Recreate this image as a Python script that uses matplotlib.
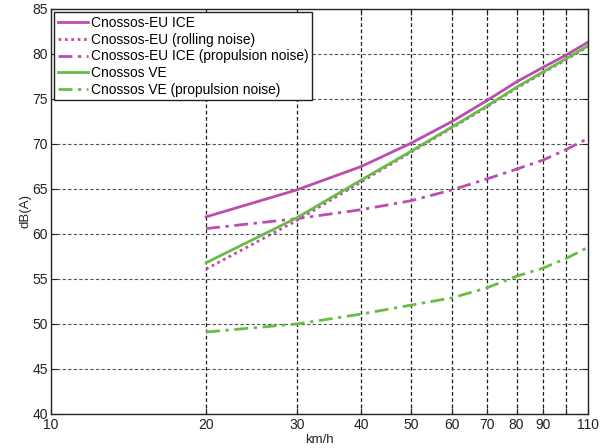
import numpy as np
import matplotlib
matplotlib.use("Agg")
import matplotlib.pyplot as plt

plt.rcParams['font.family'] = ['Liberation Sans', 'DejaVu Sans']

speed = [20, 30, 40, 50, 60, 70, 80, 90, 100, 110]
ice_total = [61.9, 64.9, 67.5, 70.1, 72.5, 74.8, 76.9, 78.5, 79.9, 81.3]
rolling = [56.1, 61.5, 65.8, 69.1, 71.8, 74.1, 76.2, 77.9, 79.4, 80.8]
ice_prop = [60.6, 61.7, 62.7, 63.7, 64.9, 66.1, 67.2, 68.2, 69.4, 70.6]
ve_total = [56.8, 61.8, 66.0, 69.2, 71.9, 74.2, 76.3, 78.0, 79.5, 80.9]
ve_prop = [49.1, 50.0, 51.1, 52.1, 52.9, 54.0, 55.3, 56.2, 57.3, 58.5]

xticks = [10, 20, 30, 40, 50, 60, 70, 80, 90, 100, 110]
xticklabels = ['10', '20', '30', '40', '50', '60', '70', '80', '90', '', '110']
yticks = [40, 45, 50, 55, 60, 65, 70, 75, 80, 85]

magenta = '#BA4DAE'
green = '#67BD45'

fig = plt.figure(figsize=(6.06, 4.48), dpi=100)
ax = fig.add_axes([0.084, 0.076, 0.886, 0.904])

ax.plot(speed, ice_total, color=magenta, lw=2.0, label='Cnossos-EU ICE')
ax.plot(speed, rolling, color=magenta, lw=2.0, ls=(0, (1, 1.3)), label='Cnossos-EU (rolling noise)')
ax.plot(speed, ice_prop, color=magenta, lw=2.0, ls=(0, (5, 2, 1.2, 2)), label='Cnossos-EU ICE (propulsion noise)')
ax.plot(speed, ve_total, color=green, lw=2.0, label='Cnossos VE')
ax.plot(speed, ve_prop, color=green, lw=2.0, ls=(0, (5, 2, 1.2, 2)), label='Cnossos VE (propulsion noise)')

ax.set_xscale('log')
ax.set_xlim(10, 110)
ax.set_ylim(40, 85)
ax.set_xticks(xticks)
ax.set_xticklabels(xticklabels)
ax.xaxis.set_minor_locator(matplotlib.ticker.NullLocator())
ax.set_yticks(yticks)
ax.tick_params(direction='in', length=4, labelsize=10, colors='#222222',
               top=True, right=True)
ax.tick_params(axis='x', pad=3)
ax.tick_params(axis='y', pad=2)

for x in xticks[1:-1]:
    ax.axvline(x, color='#1a1a1a', lw=0.9, ls=(0, (3, 2)), zorder=0)
for y in yticks[1:-1]:
    ax.axhline(y, color='#555555', lw=0.8, ls=(0, (3, 2)), zorder=0)

for s in ax.spines.values():
    s.set_color('#222222')
    s.set_linewidth(1.0)

ax.set_xlabel('km/h', fontsize=9.5, labelpad=1, color='#222222')
ax.set_ylabel('dB(A)', fontsize=9.5, labelpad=1, color='#222222')

leg = ax.legend(loc='upper left', fontsize=9.9, handlelength=2.2, borderaxespad=0.25,
                borderpad=0.25, labelspacing=0.2, handletextpad=0.2, fancybox=False)
leg.get_frame().set_edgecolor('#222222')
leg.get_frame().set_linewidth(1.0)
leg.get_frame().set_alpha(1)

fig.savefig('out.png', dpi=100)
